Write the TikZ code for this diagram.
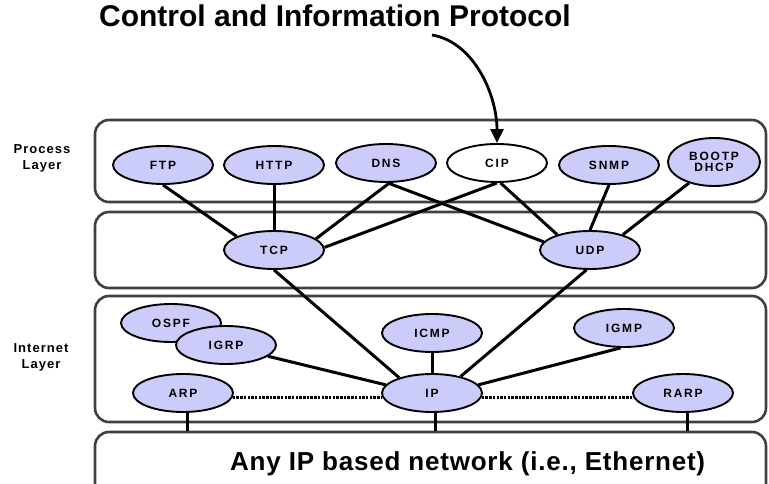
\documentclass[tikz,border=0pt]{standalone}
\usepackage{fontspec}
\setmainfont{Liberation Sans}
\newfontfamily\lblfont[LetterSpace=15]{Liberation Sans}
\newfontfamily\sidefont[LetterSpace=8]{Liberation Sans}
\newfontfamily\netfont[LetterSpace=3]{Liberation Sans}
\usetikzlibrary{shapes.geometric,arrows.meta}
\definecolor{protofill}{HTML}{CCCCFA}
\definecolor{boxline}{HTML}{404040}
\begin{document}
\begin{tikzpicture}[x=1pt,y=-1pt,
  layerbox/.style={draw=boxline, line width=2.6pt, rounded corners=14pt,
    minimum width=671pt, inner sep=0pt},
  proto/.style={ellipse, draw=black, line width=1.9pt, fill=protofill,
    minimum width=100pt, minimum height=38pt, inner sep=0pt,
    font=\lblfont\bfseries\fontsize{12}{13}\selectfont, align=center},
  link/.style={line width=3pt, black},
  dotlink/.style={line width=2.4pt, dash pattern=on 2.5pt off 1.2pt},
  sidelabel/.style={font=\sidefont\bfseries\fontsize{13}{16}\selectfont, align=center}]
\useasboundingbox (0,0) rectangle (769,484);
\clip (0,0) rectangle (769,484);

% layer boxes
\node[layerbox, minimum height=82pt] (proc)  at (430.5,161) {};
\node[layerbox, minimum height=76pt] (trans) at (430.5,250) {};
\node[layerbox, minimum height=126pt] (inet) at (430.5,359) {};
\node[layerbox, minimum height=78pt] (net)   at (430.5,471) {};

% title and labels
\node[anchor=base east, inner sep=0pt, font=\bfseries\fontsize{30}{32}\selectfont]
  (title) at (571,27) {Control and Information Protocol};
\node[sidelabel] (plabel) at (42,158) {Process\\Layer};
\node[sidelabel] (ilabel) at (41,357) {Internet\\Layer};
\node[anchor=base west, inner sep=0pt, font=\netfont\bfseries\fontsize{26}{28}\selectfont]
  (nettext) at (230,470) {Any IP based network (i.e., Ethernet)};

% process layer
\node[proto] (FTP)  at (163,165) {FTP};
\node[proto] (HTTP) at (274,165) {HTTP};
\node[proto] (DNS)  at (386,163) {DNS};
\node[proto, fill=white] (CIP) at (497,163) {CIP};
\node[proto] (SNMP) at (609,165) {SNMP};
\node[proto, minimum width=92pt, minimum height=48pt] (BOOT) at (714,162) {BOOTP\\[-2pt]DHCP};

% transport layer
\node[proto] (TCP) at (274,250) {TCP};
\node[proto] (UDP) at (590,250) {UDP};

% internet layer
\node[proto] (OSPF) at (171,323) {OSPF};
\node[proto] (IGRP) at (226,345) {IGRP};
\node[proto] (ICMP) at (432,333) {ICMP};
\node[proto] (IGMP) at (624,328) {IGMP};
\node[proto] (ARP)  at (183,393) {ARP};
\node[proto] (IP)   at (432,393) {IP};
\node[proto] (RARP) at (683,393) {RARP};

% connectors
\draw[link] (FTP.south) -- (TCP.160);
\draw[link] (HTTP.south) -- (TCP.north);
\draw[link] (DNS.-80) -- (TCP.15);
\draw[link] (CIP.south) -- (TCP.3);
\draw[link] (DNS.-85) -- (UDP.170);
\draw[link] (CIP.-80) -- (UDP.155);
\draw[link] (SNMP.south) -- (UDP.north);
\draw[link] (BOOT.-140) -- (UDP.25);
\draw[link] (TCP.south) -- (IP.155);
\draw[link] (UDP.-100) -- (IP.30);
\draw[link] (IGRP.-15) -- (IP.170);
\draw[link] (ICMP.south) -- (IP.north);
\draw[link] (IGMP.-100) -- (IP.10);
\draw[dotlink] (ARP.-5) -- (IP.-175);
\draw[dotlink] (IP.-5) -- (RARP.-175);
\draw[link] ([xshift=4pt]ARP.south) -- ([xshift=4pt]ARP.south |- net.north);
\draw[link] ([xshift=3pt]IP.south) -- ([xshift=3pt]IP.south |- net.north);
\draw[link] ([xshift=4pt]RARP.south) -- ([xshift=4pt]RARP.south |- net.north);

% pointer from the title to CIP
\coordinate (arrstart) at (432,35);
\draw[line width=2.8pt, -{Triangle[width=13pt,length=14pt]}]
  (arrstart) .. controls (474,42) and (497,95) .. (CIP.north);
\end{tikzpicture}
\end{document}
